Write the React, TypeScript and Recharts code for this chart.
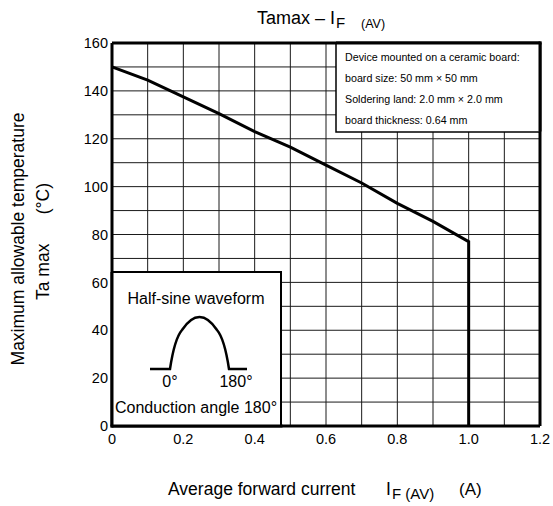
import React from "react";
import { LineChart, Line, XAxis, YAxis, ReferenceLine } from "recharts";

// Derating curve: max ambient temperature vs average forward current
const currentA = [0, 0.1, 0.2, 0.3, 0.4, 0.5, 0.6, 0.7, 0.8, 0.9, 1.0, 1.0];
const taMax = [150, 144.5, 137.5, 130.5, 123, 116.5, 109, 101.5, 93, 85.5, 77, 0];

const xTicks = [0, 0.2, 0.4, 0.6, 0.8, 1.0, 1.2];
const yTicks = [0, 20, 40, 60, 80, 100, 120, 140, 160];
const xGrid = [0.1, 0.2, 0.3, 0.4, 0.5, 0.6, 0.7, 0.8, 0.9, 1.0, 1.1];
const yGrid = [10, 20, 30, 40, 50, 60, 70, 80, 90, 100, 110, 120, 130, 140, 150];

const noteLines = [
  "Device mounted on a ceramic board:",
  "board size: 50 mm \u00d7 50 mm",
  "Soldering land: 2.0 mm \u00d7 2.0 mm",
  "board thickness: 0.64 mm",
];

const data = currentA.map((x, i) => ({ x, t: taMax[i] }));

const W = 553;
const H = 506;
const FONT = "'Liberation Sans', Arial, sans-serif";

export default function App() {
  const tick = { fill: "#000", fontSize: 14.5, fontFamily: FONT };
  return (
    <div
      style={{
        position: "absolute",
        left: 0,
        top: 0,
        width: W,
        height: H,
        background: "#fff",
        fontFamily: FONT,
      }}
    >
      <LineChart
        width={W}
        height={H}
        data={data}
        margin={{ top: 43, right: 13, bottom: 50, left: 52 }}
      >
        <XAxis
          dataKey="x"
          type="number"
          domain={[0, 1.2]}
          ticks={xTicks}
          tickFormatter={(v: number) => (v === 0 ? "0" : v.toFixed(1))}
          axisLine={false}
          tickLine={false}
          tickSize={0}
          tickMargin={8}
          height={30}
          tick={tick}
          interval={0}
        />
        <YAxis
          type="number"
          domain={[0, 160]}
          ticks={yTicks}
          axisLine={false}
          tickLine={false}
          tickSize={0}
          tickMargin={4}
          width={60}
          tick={tick}
          interval={0}
        />
        {xGrid.map((v) => (
          <ReferenceLine key={"vx" + v} x={v} stroke="#1a1a1a" strokeWidth={1} />
        ))}
        {yGrid.map((v) => (
          <ReferenceLine key={"hy" + v} y={v} stroke="#1a1a1a" strokeWidth={1} />
        ))}
        <Line
          dataKey="t"
          type="linear"
          stroke="#000"
          strokeWidth={3}
          dot={false}
          isAnimationActive={false}
        />
        {/* plot frame */}
        <ReferenceLine x={0} stroke="#000" strokeWidth={3} />
        <ReferenceLine x={1.2} stroke="#000" strokeWidth={3} />
        <ReferenceLine y={0} stroke="#000" strokeWidth={3} />
        <ReferenceLine y={160} stroke="#000" strokeWidth={3} />
      </LineChart>

      <svg
        width={W}
        height={H}
        style={{ position: "absolute", left: 0, top: 0, pointerEvents: "none" }}
        fontFamily={FONT}
      >
        {/* title */}
        <text y={24} fontSize={18}>
          <tspan x={257}>Tamax – I</tspan>
          <tspan x={336} y={28} fontSize={15}>F</tspan>
          <tspan x={361} y={28} fontSize={12.5}>(AV)</tspan>
        </text>

        {/* y axis title */}
        <g transform="translate(24,239) rotate(-90)">
          <text x={0} y={0} textAnchor="middle" fontSize={17.5}>
            Maximum allowable temperature
          </text>
        </g>
        <g transform="translate(49,241) rotate(-90)">
          <text x={-59} y={0} textAnchor="start" fontSize={17.5}>
            Ta max
          </text>
          <text x={58} y={0} textAnchor="end" fontSize={17.5}>
            (°C)
          </text>
        </g>

        {/* x axis title */}
        <text y={495} fontSize={17.5}>
          <tspan x={168}>Average forward current</tspan>
          <tspan x={386}>I</tspan>
          <tspan x={392} y={499} fontSize={15}>F (AV)</tspan>
          <tspan x={459} y={495} fontSize={17}>(A)</tspan>
        </text>

        {/* mounting conditions note */}
        <rect x={336} y={43} width={204} height={89} fill="#fff" stroke="#000" strokeWidth={1.5} />
        <rect x={336} y={41.5} width={205.5} height={3} fill="#000" />
        <rect x={538.5} y={41.5} width={3} height={90} fill="#000" />
        {noteLines.map((s, i) => (
          <text key={s} x={345} y={60.5 + i * 21} fontSize={10.7}>
            {s}
          </text>
        ))}

        {/* waveform inset */}
        <rect x={112} y={272} width={169} height={154} fill="#fff" stroke="#000" strokeWidth={2} />
        <rect x={110.5} y={272} width={3} height={155.5} fill="#000" />
        <rect x={110.5} y={424.5} width={172} height={3} fill="#000" />
        <text x={196} y={304} textAnchor="middle" fontSize={16}>
          Half-sine waveform
        </text>
        <path
          d="M150,369 L170,369 C173,349 176,337 182,330 C188,321 193,317 199.5,317 C206,317 211,321 217,330 C223,337 226,349 229,369 L247,369"
          fill="none"
          stroke="#000"
          strokeWidth={2.5}
        />
        <text x={170} y={387} textAnchor="middle" fontSize={16}>
          0°
        </text>
        <text x={236} y={387} textAnchor="middle" fontSize={16}>
          180°
        </text>
        <text x={196} y={413} textAnchor="middle" fontSize={16}>
          Conduction angle 180°
        </text>
      </svg>
    </div>
  );
}
